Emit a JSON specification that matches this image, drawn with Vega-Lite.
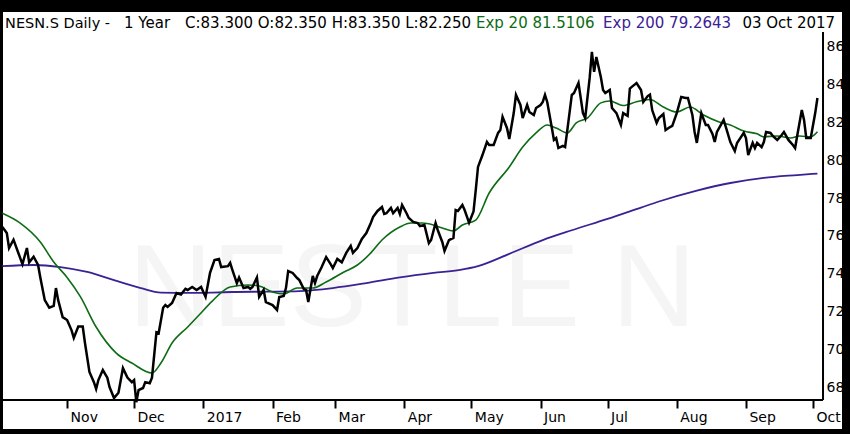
{
  "$schema": "https://vega.github.io/schema/vega-lite/v6.json",
  "width": 839,
  "height": 417,
  "autosize": {"type": "none"},
  "padding": {"left": 3, "top": 12, "right": 8, "bottom": 5},
  "background": "black",
  "config": {
    "view": {"fill": "white", "stroke": null},
    "font": "DejaVu Sans"
  },
  "datasets": {
    "one": [{}],
    "close": [
      {"d": "2016-10-03", "v": 76.47}, {"d": "2016-10-05", "v": 76.15}, {"d": "2016-10-06", "v": 75.36},
      {"d": "2016-10-08", "v": 75.8}, {"d": "2016-10-10", "v": 75.15}, {"d": "2016-10-12", "v": 74.5},
      {"d": "2016-10-14", "v": 75.36}, {"d": "2016-10-15", "v": 74.6}, {"d": "2016-10-17", "v": 74.9},
      {"d": "2016-10-19", "v": 74.46}, {"d": "2016-10-20", "v": 73.8}, {"d": "2016-10-22", "v": 72.6},
      {"d": "2016-10-24", "v": 72.2}, {"d": "2016-10-26", "v": 72.3}, {"d": "2016-10-27", "v": 73.24},
      {"d": "2016-10-28", "v": 72.6}, {"d": "2016-10-30", "v": 71.7}, {"d": "2016-11-01", "v": 71.55},
      {"d": "2016-11-03", "v": 71.0}, {"d": "2016-11-04", "v": 70.6}, {"d": "2016-11-06", "v": 71.2},
      {"d": "2016-11-08", "v": 71.2}, {"d": "2016-11-09", "v": 70.33}, {"d": "2016-11-11", "v": 68.8},
      {"d": "2016-11-13", "v": 68.26}, {"d": "2016-11-14", "v": 67.9}, {"d": "2016-11-15", "v": 68.37},
      {"d": "2016-11-17", "v": 68.9}, {"d": "2016-11-19", "v": 68.5}, {"d": "2016-11-20", "v": 68.0},
      {"d": "2016-11-22", "v": 67.42}, {"d": "2016-11-24", "v": 67.7}, {"d": "2016-11-26", "v": 69.0},
      {"d": "2016-11-28", "v": 68.5}, {"d": "2016-11-30", "v": 68.26}, {"d": "2016-12-01", "v": 68.37},
      {"d": "2016-12-02", "v": 67.2}, {"d": "2016-12-03", "v": 67.84}, {"d": "2016-12-05", "v": 67.95},
      {"d": "2016-12-06", "v": 68.26}, {"d": "2016-12-08", "v": 68.2}, {"d": "2016-12-09", "v": 68.5},
      {"d": "2016-12-11", "v": 70.9}, {"d": "2016-12-12", "v": 70.85}, {"d": "2016-12-14", "v": 72.2},
      {"d": "2016-12-15", "v": 72.34}, {"d": "2016-12-16", "v": 72.24}, {"d": "2016-12-18", "v": 72.45},
      {"d": "2016-12-20", "v": 72.98}, {"d": "2016-12-22", "v": 72.9}, {"d": "2016-12-24", "v": 73.2},
      {"d": "2016-12-25", "v": 73.14}, {"d": "2016-12-27", "v": 73.3}, {"d": "2016-12-29", "v": 73.14},
      {"d": "2016-12-31", "v": 73.3}, {"d": "2017-01-02", "v": 72.77}, {"d": "2017-01-04", "v": 74.04},
      {"d": "2017-01-06", "v": 74.72}, {"d": "2017-01-08", "v": 74.78}, {"d": "2017-01-09", "v": 74.35},
      {"d": "2017-01-12", "v": 74.4}, {"d": "2017-01-13", "v": 74.57}, {"d": "2017-01-14", "v": 74.2},
      {"d": "2017-01-16", "v": 73.5}, {"d": "2017-01-17", "v": 73.8}, {"d": "2017-01-19", "v": 73.24},
      {"d": "2017-01-21", "v": 73.3}, {"d": "2017-01-22", "v": 73.2}, {"d": "2017-01-23", "v": 73.3},
      {"d": "2017-01-25", "v": 73.8}, {"d": "2017-01-26", "v": 72.77}, {"d": "2017-01-28", "v": 73.14},
      {"d": "2017-01-29", "v": 72.5}, {"d": "2017-02-01", "v": 72.34}, {"d": "2017-02-03", "v": 72.08},
      {"d": "2017-02-04", "v": 72.77}, {"d": "2017-02-06", "v": 72.82}, {"d": "2017-02-07", "v": 73.24},
      {"d": "2017-02-08", "v": 74.14}, {"d": "2017-02-10", "v": 74.04}, {"d": "2017-02-12", "v": 73.77},
      {"d": "2017-02-13", "v": 73.66}, {"d": "2017-02-15", "v": 73.19}, {"d": "2017-02-16", "v": 73.14},
      {"d": "2017-02-17", "v": 72.5}, {"d": "2017-02-19", "v": 73.88}, {"d": "2017-02-20", "v": 73.5},
      {"d": "2017-02-21", "v": 73.88}, {"d": "2017-02-23", "v": 74.35}, {"d": "2017-02-25", "v": 74.88},
      {"d": "2017-02-27", "v": 74.51}, {"d": "2017-02-28", "v": 74.3}, {"d": "2017-03-02", "v": 74.78},
      {"d": "2017-03-04", "v": 74.6}, {"d": "2017-03-06", "v": 75.1}, {"d": "2017-03-08", "v": 75.47},
      {"d": "2017-03-09", "v": 75.1}, {"d": "2017-03-11", "v": 75.36}, {"d": "2017-03-13", "v": 75.84},
      {"d": "2017-03-15", "v": 76.15}, {"d": "2017-03-17", "v": 76.68}, {"d": "2017-03-18", "v": 77.0},
      {"d": "2017-03-20", "v": 77.32}, {"d": "2017-03-22", "v": 77.53}, {"d": "2017-03-23", "v": 77.16},
      {"d": "2017-03-24", "v": 77.2}, {"d": "2017-03-26", "v": 77.48}, {"d": "2017-03-27", "v": 77.2},
      {"d": "2017-03-29", "v": 77.48}, {"d": "2017-03-30", "v": 77.16}, {"d": "2017-03-31", "v": 77.64},
      {"d": "2017-04-02", "v": 77.2}, {"d": "2017-04-03", "v": 76.95}, {"d": "2017-04-05", "v": 76.74},
      {"d": "2017-04-07", "v": 76.68}, {"d": "2017-04-08", "v": 76.52}, {"d": "2017-04-10", "v": 76.58},
      {"d": "2017-04-12", "v": 75.62}, {"d": "2017-04-13", "v": 75.78}, {"d": "2017-04-15", "v": 76.68},
      {"d": "2017-04-16", "v": 76.3}, {"d": "2017-04-18", "v": 75.68}, {"d": "2017-04-19", "v": 75.2},
      {"d": "2017-04-21", "v": 75.78}, {"d": "2017-04-23", "v": 75.89}, {"d": "2017-04-24", "v": 77.37},
      {"d": "2017-04-25", "v": 77.32}, {"d": "2017-04-27", "v": 77.64}, {"d": "2017-04-28", "v": 77.37},
      {"d": "2017-04-30", "v": 76.7}, {"d": "2017-05-02", "v": 77.3}, {"d": "2017-05-03", "v": 78.43},
      {"d": "2017-05-04", "v": 79.65}, {"d": "2017-05-06", "v": 80.28}, {"d": "2017-05-08", "v": 80.97},
      {"d": "2017-05-09", "v": 80.81}, {"d": "2017-05-11", "v": 80.81}, {"d": "2017-05-13", "v": 81.45},
      {"d": "2017-05-14", "v": 81.6}, {"d": "2017-05-15", "v": 82.3}, {"d": "2017-05-17", "v": 81.7},
      {"d": "2017-05-18", "v": 81.13}, {"d": "2017-05-20", "v": 82.5}, {"d": "2017-05-21", "v": 83.46},
      {"d": "2017-05-23", "v": 82.93}, {"d": "2017-05-24", "v": 82.24}, {"d": "2017-05-26", "v": 82.93},
      {"d": "2017-05-27", "v": 82.56}, {"d": "2017-05-29", "v": 82.4}, {"d": "2017-05-30", "v": 82.77},
      {"d": "2017-06-01", "v": 82.93}, {"d": "2017-06-02", "v": 83.09}, {"d": "2017-06-03", "v": 83.46},
      {"d": "2017-06-04", "v": 83.09}, {"d": "2017-06-06", "v": 81.76}, {"d": "2017-06-07", "v": 81.08},
      {"d": "2017-06-08", "v": 81.18}, {"d": "2017-06-09", "v": 80.65}, {"d": "2017-06-11", "v": 80.76},
      {"d": "2017-06-12", "v": 80.7}, {"d": "2017-06-13", "v": 81.6}, {"d": "2017-06-15", "v": 83.46},
      {"d": "2017-06-16", "v": 83.56}, {"d": "2017-06-18", "v": 84.09}, {"d": "2017-06-19", "v": 83.3},
      {"d": "2017-06-20", "v": 82.5}, {"d": "2017-06-21", "v": 82.24}, {"d": "2017-06-23", "v": 84.36},
      {"d": "2017-06-24", "v": 85.74}, {"d": "2017-06-25", "v": 84.68}, {"d": "2017-06-26", "v": 85.47},
      {"d": "2017-06-28", "v": 84.41}, {"d": "2017-06-29", "v": 83.72}, {"d": "2017-06-30", "v": 83.56},
      {"d": "2017-07-02", "v": 83.72}, {"d": "2017-07-03", "v": 82.77}, {"d": "2017-07-05", "v": 82.5},
      {"d": "2017-07-07", "v": 81.87}, {"d": "2017-07-08", "v": 82.5}, {"d": "2017-07-10", "v": 82.35},
      {"d": "2017-07-11", "v": 83.8}, {"d": "2017-07-12", "v": 83.9}, {"d": "2017-07-14", "v": 84.09},
      {"d": "2017-07-16", "v": 83.72}, {"d": "2017-07-17", "v": 83.09}, {"d": "2017-07-19", "v": 83.4},
      {"d": "2017-07-20", "v": 83.48}, {"d": "2017-07-21", "v": 82.66}, {"d": "2017-07-23", "v": 81.98},
      {"d": "2017-07-24", "v": 82.24}, {"d": "2017-07-26", "v": 82.45}, {"d": "2017-07-27", "v": 81.6},
      {"d": "2017-07-29", "v": 81.76}, {"d": "2017-07-30", "v": 81.82}, {"d": "2017-08-01", "v": 82.5},
      {"d": "2017-08-03", "v": 83.35}, {"d": "2017-08-05", "v": 83.3}, {"d": "2017-08-06", "v": 83.3},
      {"d": "2017-08-08", "v": 82.4}, {"d": "2017-08-09", "v": 81.5}, {"d": "2017-08-10", "v": 80.92},
      {"d": "2017-08-12", "v": 82.5}, {"d": "2017-08-14", "v": 81.87}, {"d": "2017-08-15", "v": 81.87},
      {"d": "2017-08-17", "v": 81.4}, {"d": "2017-08-18", "v": 80.97}, {"d": "2017-08-19", "v": 81.5},
      {"d": "2017-08-22", "v": 82.14}, {"d": "2017-08-23", "v": 81.76}, {"d": "2017-08-25", "v": 80.97},
      {"d": "2017-08-27", "v": 80.49}, {"d": "2017-08-28", "v": 80.92}, {"d": "2017-08-31", "v": 81.45},
      {"d": "2017-09-01", "v": 81.18}, {"d": "2017-09-02", "v": 80.28}, {"d": "2017-09-04", "v": 80.92},
      {"d": "2017-09-05", "v": 80.65}, {"d": "2017-09-06", "v": 80.92}, {"d": "2017-09-08", "v": 80.7},
      {"d": "2017-09-09", "v": 80.97}, {"d": "2017-09-10", "v": 81.5}, {"d": "2017-09-12", "v": 81.45},
      {"d": "2017-09-13", "v": 81.29}, {"d": "2017-09-15", "v": 81.08}, {"d": "2017-09-17", "v": 81.34},
      {"d": "2017-09-18", "v": 81.5}, {"d": "2017-09-20", "v": 81.08}, {"d": "2017-09-22", "v": 80.81},
      {"d": "2017-09-23", "v": 80.65}, {"d": "2017-09-24", "v": 81.34}, {"d": "2017-09-26", "v": 82.66},
      {"d": "2017-09-27", "v": 82.14}, {"d": "2017-09-28", "v": 81.18}, {"d": "2017-09-30", "v": 81.18},
      {"d": "2017-10-02", "v": 82.5}, {"d": "2017-10-03", "v": 83.3}
    ],
    "ema20": [
      {"d": "2016-10-03", "v": 77.2}, {"d": "2016-10-11", "v": 76.68}, {"d": "2016-10-20", "v": 75.68},
      {"d": "2016-10-26", "v": 74.62}, {"d": "2016-11-01", "v": 73.8}, {"d": "2016-11-07", "v": 72.77},
      {"d": "2016-11-14", "v": 71.18}, {"d": "2016-11-23", "v": 69.8}, {"d": "2016-11-30", "v": 69.27},
      {"d": "2016-12-09", "v": 68.74}, {"d": "2016-12-13", "v": 69.27}, {"d": "2016-12-18", "v": 70.33},
      {"d": "2016-12-25", "v": 71.18}, {"d": "2016-12-30", "v": 71.8}, {"d": "2017-01-05", "v": 72.55},
      {"d": "2017-01-13", "v": 73.3}, {"d": "2017-01-21", "v": 73.4}, {"d": "2017-01-26", "v": 73.35},
      {"d": "2017-02-01", "v": 73.03}, {"d": "2017-02-06", "v": 72.93}, {"d": "2017-02-12", "v": 73.24},
      {"d": "2017-02-19", "v": 73.24}, {"d": "2017-02-25", "v": 73.56}, {"d": "2017-03-05", "v": 74.09},
      {"d": "2017-03-11", "v": 74.46}, {"d": "2017-03-17", "v": 75.1}, {"d": "2017-03-22", "v": 75.78},
      {"d": "2017-03-30", "v": 76.47}, {"d": "2017-04-04", "v": 76.68}, {"d": "2017-04-09", "v": 76.68},
      {"d": "2017-04-14", "v": 76.58}, {"d": "2017-04-18", "v": 76.42}, {"d": "2017-04-23", "v": 76.26},
      {"d": "2017-04-27", "v": 76.58}, {"d": "2017-05-03", "v": 76.84}, {"d": "2017-05-09", "v": 78.27},
      {"d": "2017-05-18", "v": 79.65}, {"d": "2017-05-24", "v": 80.7}, {"d": "2017-05-30", "v": 81.45},
      {"d": "2017-06-04", "v": 81.87}, {"d": "2017-06-08", "v": 81.71}, {"d": "2017-06-13", "v": 81.45},
      {"d": "2017-06-17", "v": 81.98}, {"d": "2017-06-22", "v": 82.24}, {"d": "2017-06-28", "v": 83.04},
      {"d": "2017-07-02", "v": 83.14}, {"d": "2017-07-08", "v": 82.9}, {"d": "2017-07-14", "v": 83.1},
      {"d": "2017-07-20", "v": 83.22}, {"d": "2017-07-26", "v": 82.82}, {"d": "2017-08-01", "v": 82.56},
      {"d": "2017-08-07", "v": 82.82}, {"d": "2017-08-13", "v": 82.4}, {"d": "2017-08-20", "v": 82.03},
      {"d": "2017-08-25", "v": 81.87}, {"d": "2017-08-31", "v": 81.55}, {"d": "2017-09-06", "v": 81.4},
      {"d": "2017-09-09", "v": 81.24}, {"d": "2017-09-15", "v": 81.29}, {"d": "2017-09-21", "v": 81.18},
      {"d": "2017-09-25", "v": 81.29}, {"d": "2017-09-30", "v": 81.24}, {"d": "2017-10-03", "v": 81.51}
    ],
    "ema200": [
      {"d": "2016-10-03", "v": 74.4}, {"d": "2016-10-17", "v": 74.46}, {"d": "2016-10-29", "v": 74.35},
      {"d": "2016-11-10", "v": 74.09}, {"d": "2016-11-22", "v": 73.66}, {"d": "2016-12-04", "v": 73.24},
      {"d": "2016-12-13", "v": 73.0}, {"d": "2016-12-25", "v": 72.98}, {"d": "2017-01-05", "v": 73.0},
      {"d": "2017-01-14", "v": 73.03}, {"d": "2017-01-29", "v": 73.05}, {"d": "2017-02-13", "v": 73.08},
      {"d": "2017-02-28", "v": 73.24}, {"d": "2017-03-15", "v": 73.5}, {"d": "2017-03-30", "v": 73.8},
      {"d": "2017-04-14", "v": 74.04}, {"d": "2017-04-26", "v": 74.2}, {"d": "2017-05-04", "v": 74.4},
      {"d": "2017-05-18", "v": 75.05}, {"d": "2017-06-02", "v": 75.78}, {"d": "2017-06-15", "v": 76.3},
      {"d": "2017-07-01", "v": 76.9}, {"d": "2017-07-16", "v": 77.5}, {"d": "2017-07-24", "v": 77.82},
      {"d": "2017-08-10", "v": 78.4}, {"d": "2017-08-25", "v": 78.8}, {"d": "2017-09-09", "v": 79.07},
      {"d": "2017-09-24", "v": 79.22}, {"d": "2017-10-03", "v": 79.3}
    ]
  },
  "encoding": {
    "x": {
      "type": "temporal",
      "scale": {
        "type": "utc",
        "domain": [
          {"year": 2016, "month": "Oct", "date": 3, "hours": 7, "utc": true},
          {"year": 2017, "month": "Oct", "date": 14, "utc": true}
        ]
      },
      "axis": {
        "orient": "bottom",
        "offset": -29,
        "title": null,
        "domain": false,
        "grid": false,
        "tickCount": {"interval": "month", "step": 1},
        "tickSize": 8,
        "tickWidth": 2,
        "tickColor": "black",
        "labelAlign": "left",
        "labelOffset": 3,
        "labelPadding": 2,
        "labelBaseline": "top",
        "labelFontSize": 14,
        "labelColor": "black",
        "labelFlush": false,
        "labelOverlap": false,
        "labelBound": false,
        "labelExpr": "utcFormat(datum.value, '%m') == '01' ? utcFormat(datum.value, '%Y') : utcFormat(datum.value, '%b')"
      }
    },
    "y": {
      "type": "quantitative",
      "scale": {"domain": [65.78, 87.85], "nice": false, "zero": false},
      "axis": {
        "orient": "right",
        "offset": -19,
        "title": null,
        "domain": false,
        "grid": false,
        "ticks": false,
        "values": [68, 70, 72, 74, 76, 78, 80, 82, 84, 86],
        "labelAlign": "left",
        "labelPadding": 3,
        "labelFontSize": 14,
        "labelColor": "black",
        "labelFlush": false,
        "labelOverlap": false,
        "labelBound": false
      }
    }
  },
  "layer": [
    {
      "data": {"name": "one"},
      "mark": {"type": "text", "align": "center", "baseline": "middle", "font": "Liberation Sans", "fontSize": 116, "color": "#f5f5f5"},
      "encoding": {
        "x": {"datum": {"year": 2017, "month": "Apr", "date": 4, "hours": 12, "utc": true}},
        "y": {"datum": 73.1},
        "text": {"value": "NESTLE N"}
      }
    },
    {
      "data": {"name": "one"},
      "mark": {"type": "rule", "color": "black", "strokeWidth": 2},
      "encoding": {
        "x": {"datum": {"year": 2016, "month": "Oct", "date": 3, "hours": 7, "utc": true}},
        "x2": {"datum": {"year": 2017, "month": "Oct", "date": 5, "hours": 12, "utc": true}},
        "y": {"datum": 67.31}
      }
    },
    {
      "data": {"name": "one"},
      "mark": {"type": "rule", "color": "black", "strokeWidth": 2},
      "encoding": {
        "x": {"datum": {"year": 2017, "month": "Oct", "date": 5, "hours": 12, "utc": true}},
        "y": {"datum": 67.31},
        "y2": {"datum": 86.79}
      }
    },
    {
      "data": {"name": "ema200"},
      "mark": {"type": "line", "color": "#3b2294", "strokeWidth": 1.8, "interpolate": "monotone"},
      "encoding": {
        "x": {"field": "d"},
        "y": {"field": "v"}
      }
    },
    {
      "data": {"name": "ema20"},
      "mark": {"type": "line", "color": "#0d6b14", "strokeWidth": 1.6, "interpolate": "monotone"},
      "encoding": {
        "x": {"field": "d"},
        "y": {"field": "v"}
      }
    },
    {
      "data": {"name": "close"},
      "mark": {"type": "line", "color": "black", "strokeWidth": 2.5},
      "encoding": {
        "x": {"field": "d"},
        "y": {"field": "v"}
      }
    },
    {
      "data": {"name": "one"},
      "mark": {"type": "text", "align": "left", "baseline": "alphabetic", "fontSize": 14.5, "color": "black"},
      "encoding": {
        "x": {"datum": {"year": 2016, "month": "Oct", "date": 4, "hours": 5, "utc": true}},
        "y": {"datum": 87.0},
        "text": {"value": "NESN.S Daily -"}
      }
    },
    {
      "data": {"name": "one"},
      "mark": {"type": "text", "align": "left", "baseline": "alphabetic", "fontSize": 15, "color": "black"},
      "encoding": {
        "x": {"datum": {"year": 2016, "month": "Nov", "date": 26, "hours": 12, "utc": true}},
        "y": {"datum": 87.0},
        "text": {"value": "1 Year"}
      }
    },
    {
      "data": {"name": "one"},
      "mark": {"type": "text", "align": "left", "baseline": "alphabetic", "fontSize": 15, "color": "black"},
      "encoding": {
        "x": {"datum": {"year": 2016, "month": "Dec", "date": 23, "hours": 19, "utc": true}},
        "y": {"datum": 87.0},
        "text": {"value": "C:83.300 O:82.350 H:83.350 L:82.250"}
      }
    },
    {
      "data": {"name": "one"},
      "mark": {"type": "text", "align": "left", "baseline": "alphabetic", "fontSize": 15, "color": "#0d6b14"},
      "encoding": {
        "x": {"datum": {"year": 2017, "month": "May", "date": 3, "hours": 2, "utc": true}},
        "y": {"datum": 87.0},
        "text": {"value": "Exp 20 81.5106"}
      }
    },
    {
      "data": {"name": "one"},
      "mark": {"type": "text", "align": "left", "baseline": "alphabetic", "fontSize": 15, "color": "#3b2294"},
      "encoding": {
        "x": {"datum": {"year": 2017, "month": "Jun", "date": 29, "utc": true}},
        "y": {"datum": 87.0},
        "text": {"value": "Exp 200 79.2643"}
      }
    },
    {
      "data": {"name": "one"},
      "mark": {"type": "text", "align": "right", "baseline": "alphabetic", "fontSize": 15, "color": "black"},
      "encoding": {
        "x": {"datum": {"year": 2017, "month": "Oct", "date": 10, "hours": 22, "utc": true}},
        "y": {"datum": 87.0},
        "text": {"value": "03 Oct 2017"}
      }
    }
  ]
}
